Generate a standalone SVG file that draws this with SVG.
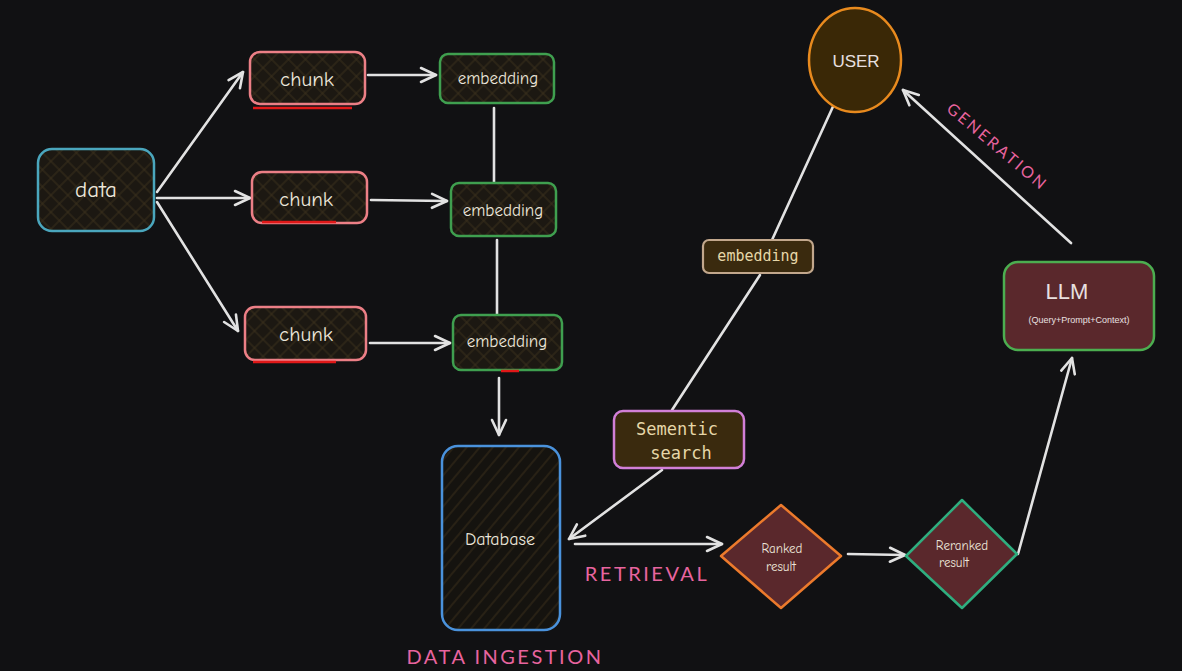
<svg xmlns="http://www.w3.org/2000/svg" width="1182" height="671" viewBox="0 0 1182 671">
<defs>
<pattern id="xh" width="12" height="12" patternUnits="userSpaceOnUse" patternTransform="rotate(45)">
<rect width="12" height="12" fill="#1c1812"/>
<path d="M0 6H12M6 0V12" stroke="#3a2f1c" stroke-width="1"/>
</pattern>
<pattern id="dh" width="10" height="10" patternUnits="userSpaceOnUse" patternTransform="rotate(-50)">
<rect width="10" height="10" fill="#15130f"/>
<path d="M0 5H10" stroke="#3a2e1a" stroke-width="1"/>
</pattern>
<marker id="ah" viewBox="0 0 20 20" refX="18" refY="10" markerWidth="20" markerHeight="20" markerUnits="userSpaceOnUse" orient="auto">
<path d="M3 3L18 10L3 17" fill="none" stroke="#e2e2e2" stroke-width="2.6" stroke-linecap="round" stroke-linejoin="round"/>
</marker>
<style>
.hand{font-family:"Comic Neue","Lato","Liberation Sans",sans-serif;fill:#ece6da;text-anchor:middle;dominant-baseline:central}
.mono{font-family:"DejaVu Sans Mono","Liberation Mono",monospace;fill:#e6d7a8;text-anchor:middle;dominant-baseline:central}
.sans{font-family:"Liberation Sans","Noto Sans",sans-serif;fill:#e8e0e0;text-anchor:middle;dominant-baseline:central}
.lbl{font-family:"Lato","Liberation Sans",sans-serif;fill:#e8649f;text-anchor:middle;dominant-baseline:central;letter-spacing:2.5px}
.chunk{fill:url(#xh);stroke:#ec7f86;stroke-width:2.5}
.emb{fill:url(#xh);stroke:#3f9f4f;stroke-width:2.5}
.conn line,.conn path{stroke:#e2e2e2;stroke-width:2.6;fill:none;stroke-linecap:round}
.red{stroke:#e01818;stroke-width:2.5}
</style>
</defs>
<rect width="1182" height="671" fill="#111113"/>

<g class="conn" id="connectors">
<line x1="157" y1="192" x2="243" y2="72" marker-end="url(#ah)"/>
<line x1="157" y1="198" x2="250" y2="198" marker-end="url(#ah)"/>
<line x1="157" y1="202" x2="238" y2="331" marker-end="url(#ah)"/>
<line x1="368" y1="75" x2="436" y2="75" marker-end="url(#ah)"/>
<line x1="371" y1="200" x2="447" y2="201" marker-end="url(#ah)"/>
<line x1="370" y1="343" x2="450" y2="343" marker-end="url(#ah)"/>
<line x1="494" y1="108" x2="494" y2="183"/>
<line x1="497" y1="240" x2="497" y2="315"/>
<line x1="499" y1="378" x2="499" y2="435" marker-end="url(#ah)"/>
<line x1="836" y1="100" x2="772" y2="240"/>
<line x1="760" y1="275" x2="672" y2="410"/>
<line x1="662" y1="470" x2="569" y2="539" marker-end="url(#ah)"/>
<line x1="575" y1="544" x2="722" y2="544" marker-end="url(#ah)"/>
<line x1="848" y1="554" x2="905" y2="555" marker-end="url(#ah)"/>
<path d="M1018 554L1072 358" marker-end="url(#ah)"/>
<line x1="1071" y1="243" x2="903" y2="90" marker-end="url(#ah)"/>
</g>

<g id="data">
<rect x="38" y="149" width="116" height="82" rx="14" fill="url(#xh)" stroke="#4aa6bd" stroke-width="2.5"/>
<text class="hand" x="96" y="189" font-size="23">data</text>
</g>
<g id="chunk1">
<rect class="chunk" x="250" y="52" width="115" height="52" rx="10"/>
<text class="hand" x="307" y="79" font-size="21">chunk</text>
<line class="red" x1="253" y1="108" x2="352" y2="108"/>
</g>
<g id="chunk2">
<rect class="chunk" x="252" y="172" width="115" height="51" rx="10"/>
<text class="hand" x="306" y="199" font-size="21">chunk</text>
<line class="red" x1="262" y1="222" x2="336" y2="222"/>
</g>
<g id="chunk3">
<rect class="chunk" x="245" y="307" width="121" height="53" rx="10"/>
<text class="hand" x="306" y="334" font-size="21">chunk</text>
<line class="red" x1="253" y1="362" x2="336" y2="362"/>
</g>
<g id="embedding1">
<rect class="emb" x="440" y="54" width="114" height="49" rx="8"/>
<text class="hand" x="498" y="78" font-size="17">embedding</text>
</g>
<g id="embedding2">
<rect class="emb" x="451" y="183" width="105" height="53" rx="8"/>
<text class="hand" x="503" y="210" font-size="17">embedding</text>
</g>
<g id="embedding3">
<rect class="emb" x="453" y="315" width="109" height="55" rx="8"/>
<text class="hand" x="507" y="341" font-size="17">embedding</text>
<line class="red" x1="501" y1="371" x2="519" y2="371"/>
</g>
<g id="database">
<rect x="442" y="446" width="118" height="184" rx="16" fill="url(#dh)" stroke="#4a92dc" stroke-width="2.5"/>
<text class="hand" x="500" y="539" font-size="18">Database</text>
</g>
<g id="semantic">
<rect x="614" y="411" width="130" height="57" rx="9" fill="#3a2a0e" stroke="#d27fd8" stroke-width="2.5"/>
<text class="mono" x="677" y="429" font-size="17">Sementic</text>
<text class="mono" x="681" y="453" font-size="17">search</text>
</g>
<g id="embedding-q">
<rect x="703" y="240" width="110" height="33" rx="6" fill="#3a2a0e" stroke="#c2a78c" stroke-width="2.2"/>
<text class="mono" x="758" y="256" font-size="15">embedding</text>
</g>
<g id="user">
<ellipse cx="855" cy="60" rx="46" ry="52" fill="#3a2806" stroke="#e88a1e" stroke-width="2.5"/>
<text class="sans" x="856" y="61" font-size="17">USER</text>
</g>
<g id="llm">
<rect x="1004" y="262" width="150" height="88" rx="14" fill="#5a282c" stroke="#4cae50" stroke-width="2.5"/>
<text class="sans" x="1067" y="291" font-size="22">LLM</text>
<text class="sans" x="1079" y="320" font-size="9" fill="#d8c8c8">(Query+Prompt+Context)</text>
</g>
<g id="ranked">
<path d="M721 556L781 505L841 556L781 608Z" fill="#5a282c" stroke="#ec7a2c" stroke-width="2.5" stroke-linejoin="round"/>
<text class="hand" x="782" y="548" font-size="13">Ranked</text>
<text class="hand" x="781" y="566" font-size="13">result</text>
</g>
<g id="reranked">
<path d="M906 556L962 500L1017 554L962 608Z" fill="#5a282c" stroke="#2fae7f" stroke-width="2.5" stroke-linejoin="round"/>
<text class="hand" x="962" y="545" font-size="13">Reranked</text>
<text class="hand" x="954" y="562" font-size="13">result</text>
</g>

<g id="labels">
<text class="lbl" x="505" y="656" font-size="20">DATA INGESTION</text>
<text class="lbl" x="647" y="573" font-size="20">RETRIEVAL</text>
<text class="lbl" x="998" y="146" font-size="16" transform="rotate(40 998 146)">GENERATION</text>
</g>
</svg>
